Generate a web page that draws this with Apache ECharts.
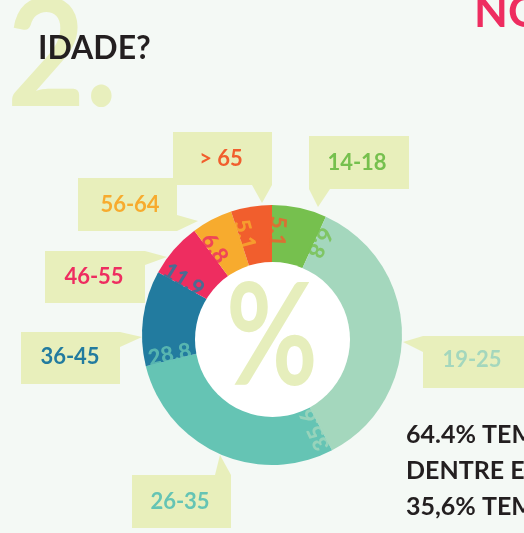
<!DOCTYPE html>
<html>
<head>
<meta charset="utf-8">
<script src="https://cdn.jsdelivr.net/npm/echarts@6/dist/echarts.min.js"></script>
<style>
html,body{margin:0;padding:0;background:#f4f9f5;}
#chart{width:524px;height:533px;}
</style>
</head>
<body>
<div id="chart"></div>
<script>
// ---- data ----
const categories = ['14-18', '19-25', '26-35', '36-45', '46-55', '56-64', '> 65'];
const values = [6.8, 35.6, 28.8, 11.9, 6.8, 5.1, 5.1];
const colors = ['#76c04e', '#a4d7bd', '#65c4b4', '#227b9f', '#ee2d60', '#f7ab2e', '#f15e2d'];
const titleText = 'IDADE?';
const bigNumber = '2.';
const centerSymbol = '%';
const noteLines = ['64.4% TEM ENTRE', 'DENTRE ELES', '35,6% TEM ENTRE'];

// ---- layout (not data) ----
const FONT = 'Lato, "Noto Sans", sans-serif';
const CX = 272, CY = 335, R = 130;
const boxFill = '#e8efbb';
const boxLayout = [
  {rect: [309, 136, 100, 53], tri: [[309, 189], [330, 189], [318, 207]], tx: 357, ty: 163},
  {rect: [423, 336, 101, 52], tri: [[423, 336], [423, 352], [403, 342]], tx: 472, ty: 360},
  {rect: [132, 475, 99, 53], tri: [[215, 475], [231, 475], [220, 455]], tx: 180, ty: 502},
  {rect: [21, 332, 99, 52], tri: [[120, 332], [120, 347], [142, 337]], tx: 70, ty: 357},
  {rect: [45, 251, 100, 52], tri: [[145, 251], [145, 265], [167, 257]], tx: 94, ty: 277},
  {rect: [78, 178, 99, 53], tri: [[177, 215], [177, 231], [198, 221]], tx: 130, ty: 205},
  {rect: [173, 132, 99, 53], tri: [[252, 185], [272, 185], [262, 203]], tx: 221, ty: 159}
];

const total = values.reduce((a, b) => a + b, 0);
const labelOffset = 0.85; // percent of circle past the segment end
let cum = 0;
const labelData = values.map((v, i) => {
  cum += v;
  const ang = ((cum / total) * 100 + labelOffset) % 100;
  const theta = ang * 3.6;
  let rot = -theta - 90;
  while (rot <= -180) rot += 360;
  while (rot > 180) rot -= 360;
  return {
    value: [104, ang],
    name: v.toFixed(1),
    label: {rotate: rot, color: colors[i]}
  };
});

const graphics = [];
// big "2." and title
graphics.push({type: 'text', z: 1, x: 7, y: 58, scaleX: 0.9, style: {x: 0, y: 0, text: bigNumber, font: 'bold 150px ' + FONT, fill: '#e8efbd', textVerticalAlign: 'middle'}});
graphics.push({type: 'text', z: 2, style: {x: 38, y: 49, text: titleText, font: 'bold 32px ' + FONT, fill: '#231f20', textVerticalAlign: 'middle'}});
graphics.push({type: 'text', z: 2, style: {x: 474, y: 13, text: 'NO', font: 'bold 44px ' + FONT, fill: '#ee2d60', textVerticalAlign: 'middle'}});
// note lines
const noteY = [435, 471, 507];
noteLines.forEach((t, i) => {
  graphics.push({type: 'text', z: 2, style: {x: 406, y: noteY[i], text: t, font: 'bold 25px ' + FONT, fill: '#231f20', textVerticalAlign: 'middle'}});
});
// callout boxes
categories.forEach((c, i) => {
  const b = boxLayout[i];
  graphics.push({type: 'rect', z: 1, shape: {x: b.rect[0], y: b.rect[1], width: b.rect[2], height: b.rect[3]}, style: {fill: boxFill}});
  graphics.push({type: 'polygon', z: 1, shape: {points: b.tri}, style: {fill: boxFill}});
  graphics.push({type: 'text', z: 3, style: {x: b.tx, y: b.ty, text: c, font: 'bold 22px ' + FONT, fill: colors[i], textAlign: 'center', textVerticalAlign: 'middle'}});
});
// white hole and % sign
graphics.push({type: 'circle', z: 20, shape: {cx: 272.5, cy: 339.5, r: 77.5}, style: {fill: '#ffffff'}});
graphics.push({type: 'text', z: 21, x: 272, y: 339, scaleX: 0.8, scaleY: 1.02, style: {x: 0, y: 0, text: centerSymbol, font: 'bold 140px ' + FONT, fill: '#e6eebc', textAlign: 'center', textVerticalAlign: 'middle'}});

const chart = echarts.init(document.getElementById('chart'), null, {renderer: 'canvas'});
chart.setOption({
  backgroundColor: '#f4f9f5',
  animation: false,
  polar: {center: [CX, CY], radius: R},
  angleAxis: {type: 'value', min: 0, max: 100, startAngle: 90, clockwise: true, show: false},
  radiusAxis: {type: 'value', min: 0, max: R, show: false},
  graphic: graphics,
  series: [
    {
      type: 'pie',
      z: 5,
      center: [CX, CY],
      radius: [0, R],
      startAngle: 90,
      clockwise: true,
      silent: true,
      label: {show: false},
      labelLine: {show: false},
      itemStyle: {borderWidth: 0},
      data: categories.map((c, i) => ({name: c, value: values[i], itemStyle: {color: colors[i]}}))
    },
    {
      type: 'scatter',
      coordinateSystem: 'polar',
      z: 30,
      symbolSize: 0,
      silent: true,
      label: {
        show: true,
        position: 'inside',
        formatter: p => p.name,
        fontFamily: 'Lato, "Noto Sans", sans-serif',
        fontWeight: 900,
        fontSize: 22
      },
      data: labelData
    }
  ]
});
</script>
</body>
</html>
